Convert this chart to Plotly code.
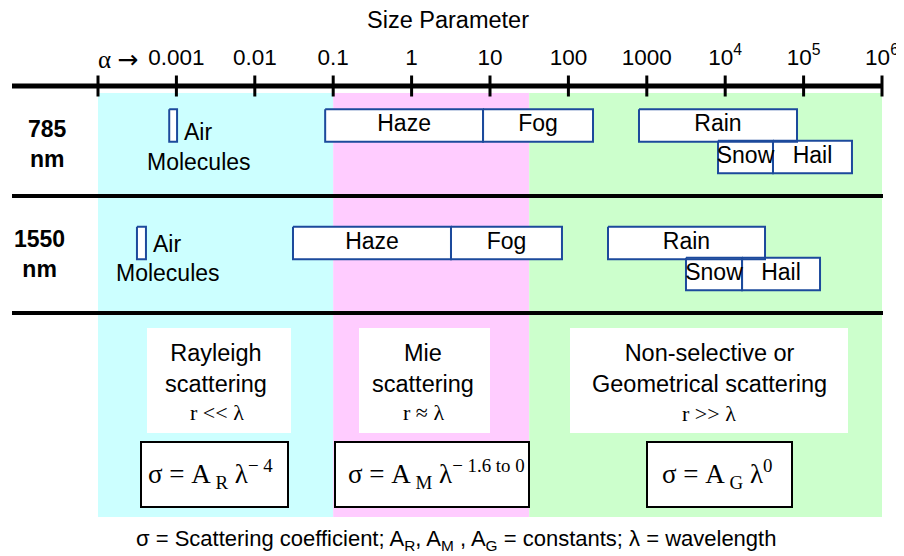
import math
import plotly.graph_objects as go

# ---------------- data ----------------
tick_values = [1e-4, 1e-3, 1e-2, 1e-1, 1, 10, 100, 1e3, 1e4, 1e5, 1e6]
tick_labels = ["", "0.001", "0.01", "0.1", "1", "10", "100", "1000",
               "10<sup>4</sup>", "10<sup>5</sup>", "10<sup>6</sup>"]

regime_lo = [1e-4, 0.1, 31.6]
regime_hi = [0.1, 31.6, 1e6]
regime_colors = ["#ccffff", "#ffccff", "#ccffcc"]

particles = ["Haze", "Fog", "Rain", "Snow", "Hail"]

air_785 = [0.00081, 0.00102]
lo_785 = [0.079, 8.15, 795, 8100, 40700]
hi_785 = [8.15, 206, 82400, 40700, 414000]

air_1550 = [0.000314, 0.000409]
lo_1550 = [0.0307, 3.18, 320, 3160, 16400]
hi_1550 = [3.18, 82.8, 32200, 16400, 162000]

# ---------------- layout helpers ----------------
# The page has an 8px body margin, so the figure is 896x548 inside a 904x556 window.
# All positions below are given in window pixels.
OFF = 8
W, H = 896, 548
PLOT_L, PLOT_R, PLOT_T, PLOT_B = 98, 882, 86, 517
L, R = PLOT_L - OFF, W - (PLOT_R - OFF)
T, B = PLOT_T - OFF, H - (PLOT_B - OFF)
PW, PH = PLOT_R - PLOT_L, PLOT_B - PLOT_T
SANS = "Arial, Liberation Sans, sans-serif"
SERIF = "Times New Roman, Liberation Serif, serif"
BLUE = "#1c4a9c"


def pxx(px):
    return (px - PLOT_L) / PW


def pyy(py):
    return (PLOT_B - py) / PH


annotations = []


def ann(text, px, py, size, family=SANS, xanchor="center", color="black"):
    annotations.append(dict(text=text, x=pxx(px), y=pyy(py), xref="paper", yref="paper",
                            showarrow=False, xanchor=xanchor, yanchor="middle",
                            font=dict(size=size, family=family, color=color)))


shapes = []


def hline(py, width):
    shapes.append(dict(type="line", xref="paper", yref="paper", x0=pxx(12), x1=pxx(883),
                       y0=pyy(py), y1=pyy(py), line=dict(color="black", width=width)))


def box(x0, x1, y0, y1, border):
    shapes.append(dict(type="rect", xref="paper", yref="paper", x0=pxx(x0), x1=pxx(x1),
                       y0=pyy(y1), y1=pyy(y0), fillcolor="white",
                       line=dict(color="black", width=2 if border else 0)))


fig = go.Figure()

# regime shading
for lo, hi, c in zip(regime_lo, regime_hi, regime_colors):
    fig.add_trace(go.Scatter(x=[lo, hi, hi, lo, lo], y=[93, 93, 517, 517, 93],
                             mode="lines", fill="toself", fillcolor=c,
                             line=dict(width=0, color=c), hoverinfo="skip", showlegend=False))

# axis tick marks
fig.add_trace(go.Scatter(x=tick_values, y=[86] * len(tick_values), mode="markers",
                         marker=dict(symbol="line-ns", size=15, line=dict(width=3, color="black")),
                         cliponaxis=False, hoverinfo="skip", showlegend=False))

rows = [
    dict(name="785<br>nm", label_x=47, label_y=143.5, air=air_785, lo=lo_785, hi=hi_785,
         y_main=125.5, y_sub=157, air_dy=6, mol_dy=36),
    dict(name="1550<br>nm", label_x=39, label_y=254, air=air_1550, lo=lo_1550, hi=hi_1550,
         y_main=243, y_sub=274, air_dy=1, mol_dy=30),
]
lanes = {"Haze": 0, "Fog": 0, "Rain": 0, "Snow": 1, "Hail": 1}
HALF = 16.3

for row in rows:
    xs, ys, tx, ty = [], [], [], []
    segs = [(row["air"][0], row["air"][1], row["y_main"])]
    for p, lo, hi in zip(particles, row["lo"], row["hi"]):
        yc = row["y_sub"] if lanes[p] else row["y_main"]
        segs.append((lo, hi, yc))
        tx.append(math.sqrt(lo * hi))
        ty.append(yc)
    for lo, hi, yc in segs:
        xs += [lo, hi, hi, lo, lo, None]
        ys += [yc - HALF, yc - HALF, yc + HALF, yc + HALF, yc - HALF, None]
    fig.add_trace(go.Scatter(x=xs, y=ys, mode="lines", fill="toself", fillcolor="white",
                             line=dict(color=BLUE, width=2), hoverinfo="skip", showlegend=False))
    fig.add_trace(go.Scatter(x=tx, y=ty, mode="text", text=particles,
                             textfont=dict(size=23, family=SANS, color="black"),
                             cliponaxis=False, hoverinfo="skip", showlegend=False))
    # air molecules labels
    annotations.append(dict(text="Air", x=math.log10(row["air"][1]), y=row["y_main"] + row["air_dy"],
                            xref="x", yref="y", xanchor="left", yanchor="middle", xshift=5,
                            showarrow=False, font=dict(size=23, family=SANS, color="black")))
    annotations.append(dict(text="Molecules", x=math.log10(row["air"][1]), y=row["y_main"] + row["mol_dy"],
                            xref="x", yref="y", xanchor="center", yanchor="middle", xshift=22,
                            showarrow=False, font=dict(size=23, family=SANS, color="black")))
    ann("<b>" + row["name"] + "</b>", row["label_x"], row["label_y"], 23)

# lines
hline(86, 5)
hline(196, 4)
hline(313, 4)

# scattering regime boxes
box(147, 291, 328, 433, False)
box(359, 490, 328, 433, False)
box(570, 848, 328, 433, False)
box(141, 288, 442, 507, True)
box(335, 529, 442, 507, True)
box(647, 792, 442, 507, True)

ann("Rayleigh<br>scattering", 216, 368, 23.5)
ann("r << λ", 217, 412, 22, SERIF)
ann("Mie<br>scattering", 423, 368, 23.5)
ann("r ≈ λ", 423, 412, 22, SERIF)
ann("Non-selective or<br>Geometrical scattering", 709, 368, 23.5)
ann("r >> λ", 709, 413, 22, SERIF)

ann("σ = A<sub> R</sub> λ<sup>− 4</sup>", 210, 474, 27, SERIF)
ann("σ = A<sub> M</sub> λ<sup>− 1.6 to 0</sup>", 436, 474, 27, SERIF)
ann("σ = A<sub> G</sub> λ<sup>0</sup>", 717, 474, 27, SERIF)

# axis title, alpha prefix, caption
ann("Size Parameter", 448, 20, 23.5)
ann('α <span style="font-family:DejaVu Sans">→</span>', 140, 59, 25, family=SERIF, xanchor="right")
ann("σ = Scattering coefficient; A<sub>R</sub>, A<sub>M</sub> , A<sub>G</sub> = constants; λ = wavelength",
    134, 540, 22, xanchor="left")

fig.update_layout(
    width=W, height=H, margin=dict(l=L, r=R, t=T, b=B, autoexpand=False),
    paper_bgcolor="white", plot_bgcolor="white", showlegend=False,
    shapes=shapes, annotations=annotations,
    xaxis=dict(type="log", range=[-4, 6], side="top", tickvals=tick_values, ticktext=tick_labels,
               showgrid=False, zeroline=False, showline=False, ticks="", automargin=False,
               ticklabelstandoff=16,
               tickfont=dict(size=22.5, family=SANS, color="black"), fixedrange=True),
    yaxis=dict(range=[517, 86], visible=False, fixedrange=True, automargin=False),
)

fig.write_html("out.html")
